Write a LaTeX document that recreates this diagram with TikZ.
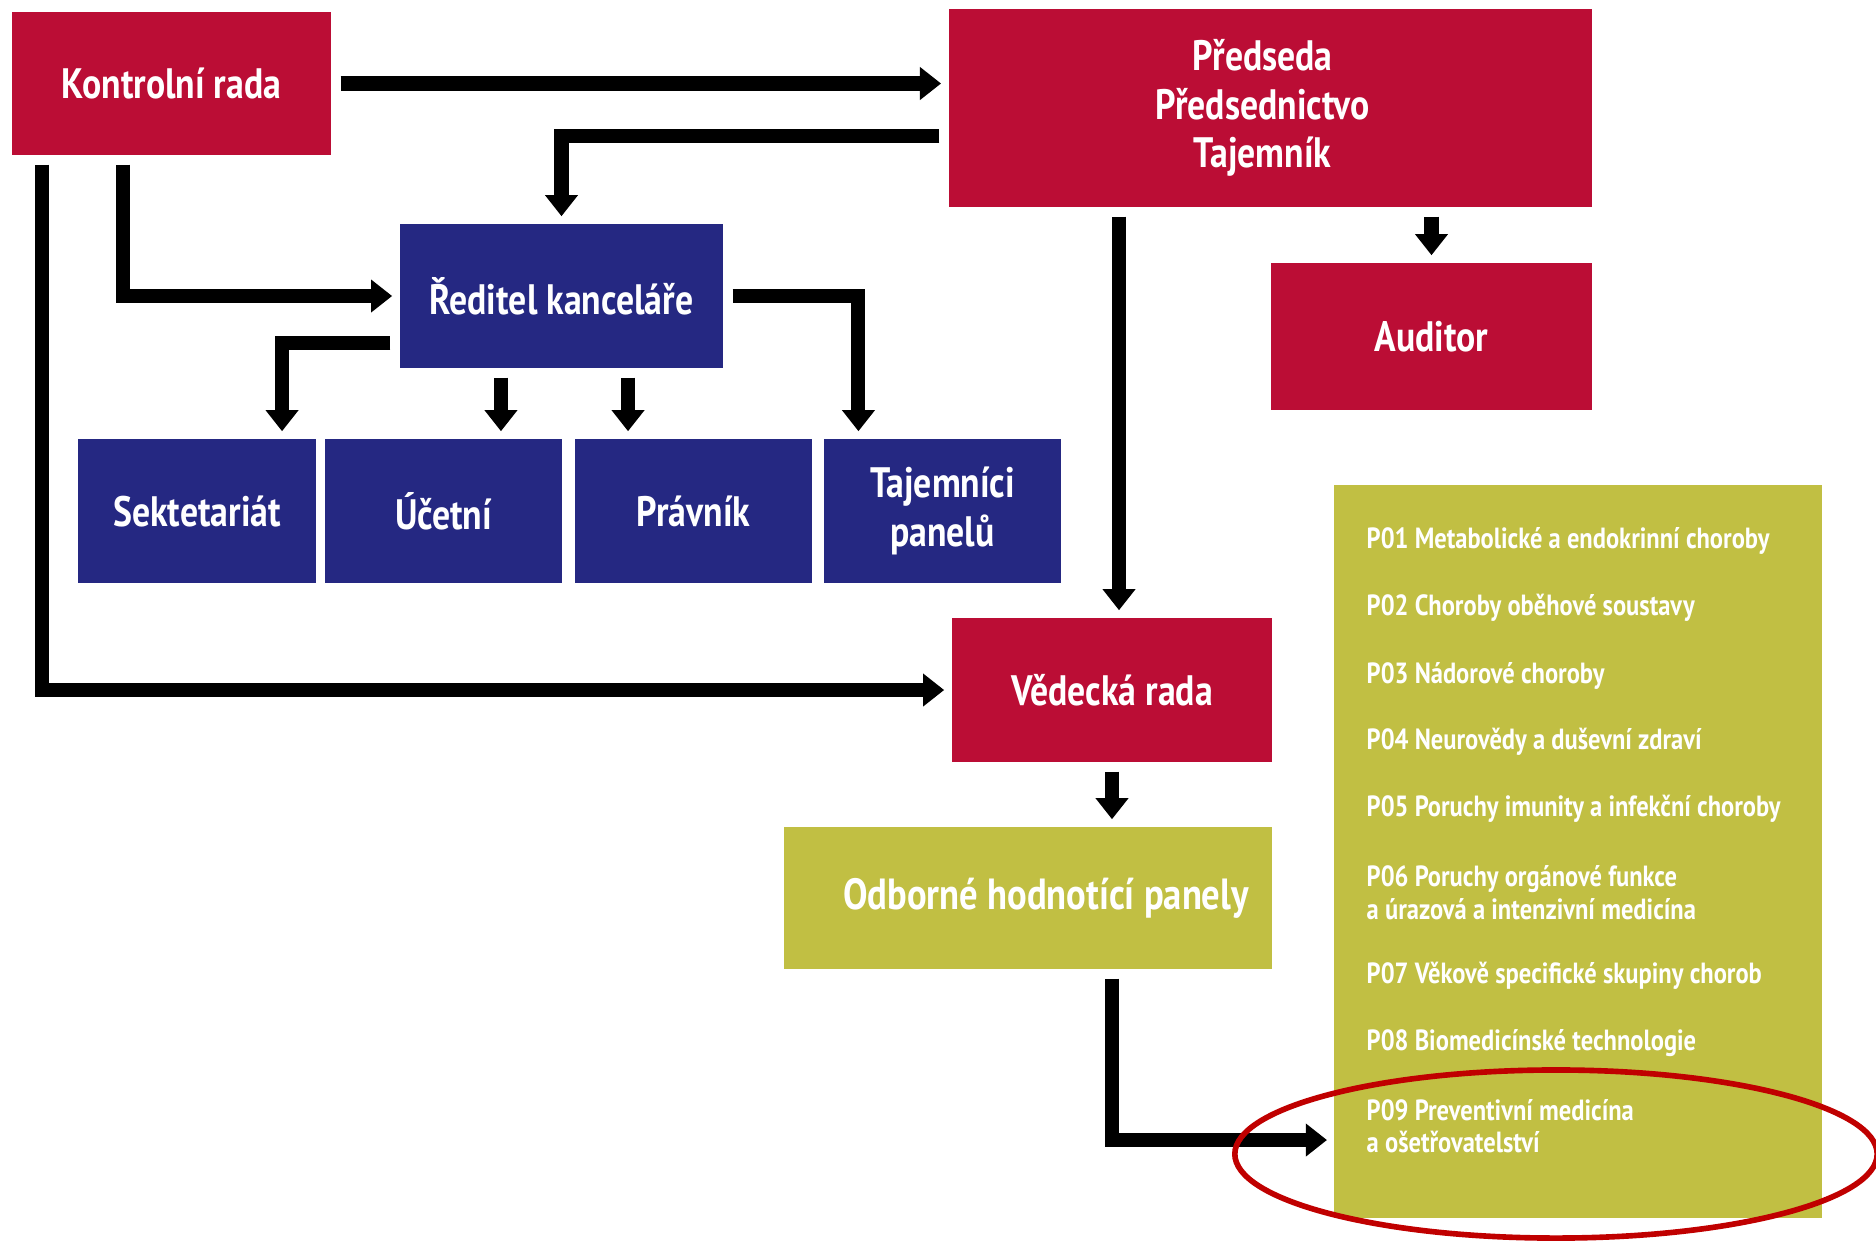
\documentclass[tikz,border=0pt]{standalone}
\usepackage{fontspec}
\setmainfont{PT Sans}
\newfontfamily\narrowfont{PT Sans}[FakeStretch=0.84]
\usetikzlibrary{arrows.meta}

\definecolor{boardred}{RGB}{187,13,53}
\definecolor{officeblue}{RGB}{37,40,130}
\definecolor{panelolive}{RGB}{193,191,67}
\definecolor{ringred}{RGB}{192,0,0}

\tikzset{
	box/.style={inner sep=0pt, text=white, align=center, font=\narrowfont\bfseries\fontsize{12.1}{13.7}\selectfont},
	redbox/.style={box, fill=boardred},
	bluebox/.style={box, fill=officeblue},
	olivebox/.style={box, fill=panelolive},
	unitbox/.style={bluebox, minimum width=2.37cm, minimum height=1.44cm},
	item/.style={anchor=west, inner sep=0pt, text=white, align=left, font=\narrowfont\bfseries\fontsize{8.3}{9.2}\selectfont},
	arr/.style={line width=4pt, -{Triangle[width=9pt,length=6pt]}, shorten <=2.5pt, shorten >=2pt},
	ring/.style={draw=ringred, line width=1.6pt}
}

\begin{document}
\begin{tikzpicture}[x=0.01cm, y=-0.01cm]
		%%%%% START %%%%%
		\useasboundingbox (0,0) rectangle (1876,1241);
		
		% boards
		\node[redbox, minimum width=3.19cm, minimum height=1.43cm] (kontrol) at (171.5,83.5) {Kontrolní rada};
		\node[redbox, minimum width=6.43cm, minimum height=1.98cm,
			label={[box, xshift=-0.08cm]center:Předseda\\Předsednictvo\\Tajemník}] (predseda) at (1270.5,108) {};
		\node[redbox, minimum width=3.21cm, minimum height=1.47cm] (auditor) at (1431.5,336.5) {Auditor};
		\node[redbox, minimum width=3.20cm, minimum height=1.44cm] (vedecka) at (1112,690) {Vědecká rada};
		\node[olivebox, minimum width=4.88cm, minimum height=1.42cm, font=\narrowfont\bfseries\fontsize{12.4}{15}\selectfont] (odborne) at (1028,898) {\hspace*{0.36cm}Odborné hodnotící panely};
		
		% office
		\node[bluebox, minimum width=3.23cm, minimum height=1.44cm] (reditel) at (561.5,296) {Ředitel kanceláře};
		\node[unitbox] (sekr) at (197,511) {Sektetariát};
		\node[unitbox] (ucetni) at (443.5,511) {Účetní};
		\node[unitbox] (pravnik) at (693.5,511) {Právník};
		\node[unitbox] (tajem) at (942.5,511) {Tajemníci\\panelů};
		
		% panels
		\node[fill=panelolive, minimum width=4.88cm, minimum height=7.33cm, inner sep=0pt] (lst) at (1578,851.5) {};
		\node[item] (p01) at (1366,541) {P01 Metabolické a endokrinní choroby};
		\node[item] (p02) at (1366,608) {P02 Choroby oběhové soustavy};
		\node[item] (p03) at (1366,676) {P03 Nádorové choroby};
		\node[item] (p04) at (1366,742) {P04 Neurovědy a duševní zdraví};
		\node[item] (p05) at (1366,809) {P05 Poruchy imunity a infekční choroby};
		\node[item] (p06) at (1366,892.5) {P06 Poruchy orgánové funkce\\a úrazová a intenzivní medicína};
		\node[item] (p07) at (1366,976) {P07 Věkově specifické skupiny chorob};
		\node[item] (p08) at (1366,1043) {P08 Biomedicínské technologie};
		\node[item] (p09) at (1366,1126) {P09 Preventivní medicína\\a ošetřovatelství};
		\coordinate (hit) at (1334,1140);
		
		% arrows
		\draw[arr] (kontrol.east) -- (kontrol.east -| predseda.west);
		\draw[arr] ([yshift=-0.28cm]predseda.west) -| (reditel.north);
		\draw[arr] ([xshift=-0.485cm]kontrol.south) |- (reditel.west);
		\draw[arr] ([xshift=-1.295cm]kontrol.south) |- (vedecka.west);
		\draw[arr] (auditor.north |- predseda.south) -- (auditor.north);
		\draw[arr] ([xshift=0.07cm]vedecka.north |- predseda.south) -- ([xshift=0.07cm]vedecka.north);
		\draw[arr] ([yshift=-0.47cm]reditel.west) -| ([xshift=0.85cm]sekr.north);
		\draw[arr] ([xshift=-0.605cm]reditel.south) -- ([xshift=-0.605cm]reditel.south |- ucetni.north);
		\draw[arr] ([xshift=0.665cm]reditel.south) -- ([xshift=0.665cm]reditel.south |- pravnik.north);
		\draw[arr] (reditel.east) -| ([xshift=-0.84cm]tajem.north);
		\draw[arr] (vedecka.south) -- (vedecka.south |- odborne.north);
		\draw[arr] (vedecka.south |- odborne.south) |- (hit);
		
		\draw[ring] (1556,1154) ellipse [x radius=3.21cm, y radius=0.84cm];
		
		%%%%% END %%%%%
\end{tikzpicture}
\end{document}
